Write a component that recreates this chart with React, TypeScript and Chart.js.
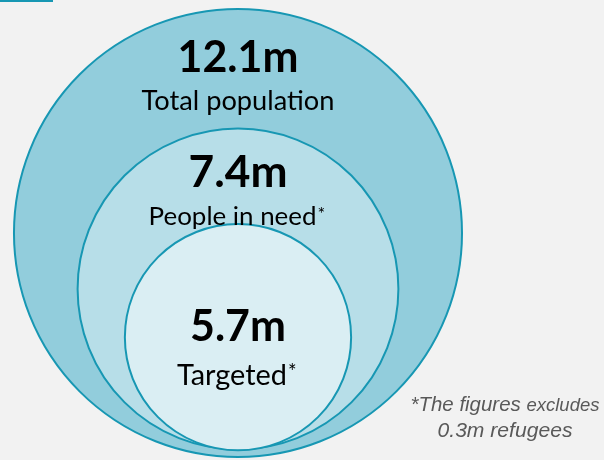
import React, { useEffect, useRef } from "react";
import { Chart, registerables } from "chart.js";

Chart.register(...registerables);

// ---- data ----
const categories = ["Total population", "People in need", "Targeted"];
const valueLabels = ["12.1m", "7.4m", "5.7m"];
const values = [12.1, 7.4, 5.7];
const hasAsterisk = [false, true, true];
// circle geometry in relative units (outer circle radius = 1)
const circleRadius = [1, 0.716, 0.505];
const circleCenterY = [0, -0.25, -0.465];
const footnoteLines = ["*The figures ", "excludes", "0.3m refugees"];

// ---- styles ----
const fills = ["#92cddc", "#b7dee8", "#daeef3"];
const border = "#1797b3";
const valueBaseY = [0.719, 0.205, -0.482];
const nameBaseY = [0.549, 0.036, -0.679];
const valueWidth = [121, 99, 96];
const nameWidth = [193, 168, 110];
const footX = 1.192;
const footBaseY = [-0.795, -0.911];
const footWidth = [116, 73, 135];

function fitSize(ctx: CanvasRenderingContext2D, text: string, weight: string, family: string, target: number) {
  ctx.font = `${weight} 100px ${family}`;
  const w = ctx.measureText(text).width;
  return (100 * target) / w;
}

const labelPlugin = {
  id: "labels",
  afterDatasetsDraw(chart: any) {
    const ctx: CanvasRenderingContext2D = chart.ctx;
    const xs = chart.scales.x;
    const ys = chart.scales.y;
    ctx.save();
    // top-left decoration line
    ctx.fillStyle = border;
    ctx.fillRect(0, 0, 53, 2);

    const fam = "Lato, 'Open Sans', sans-serif";
    const cx = xs.getPixelForValue(0);
    ctx.fillStyle = "#000";
    ctx.textBaseline = "alphabetic";
    for (let i = 0; i < categories.length; i++) {
      const vs = fitSize(ctx, valueLabels[i], "bold", fam, valueWidth[i]);
      ctx.font = `bold ${vs}px ${fam}`;
      ctx.textAlign = "center";
      ctx.fillText(valueLabels[i], cx, ys.getPixelForValue(valueBaseY[i]));
      const ns = fitSize(ctx, categories[i], "normal", fam, nameWidth[i]);
      ctx.font = `normal ${ns}px ${fam}`;
      const nw = ctx.measureText(categories[i]).width;
      const ast = hasAsterisk[i] ? ns * 0.42 : 0;
      const startX = cx - (nw + ast) / 2;
      const by = ys.getPixelForValue(nameBaseY[i]);
      ctx.textAlign = "left";
      ctx.fillText(categories[i], startX, by);
      if (hasAsterisk[i]) {
        ctx.font = `normal ${ns * 0.7}px ${fam}`;
        ctx.fillText("*", startX + nw + 1, by - ns * 0.2);
      }
    }

    // footnote
    const ff = "'Liberation Sans', Arial, sans-serif";
    ctx.fillStyle = "#595959";
    const fx = xs.getPixelForValue(footX);
    const s1 = fitSize(ctx, footnoteLines[0], "italic", ff, footWidth[0]);
    const s2 = fitSize(ctx, footnoteLines[1], "italic", ff, footWidth[1]);
    const s3 = fitSize(ctx, footnoteLines[2], "italic", ff, footWidth[2]);
    const sx = fx - (footWidth[0] + footWidth[1]) / 2;
    const fy1 = ys.getPixelForValue(footBaseY[0]);
    ctx.textAlign = "left";
    ctx.font = `italic ${s1}px ${ff}`;
    ctx.fillText(footnoteLines[0], sx, fy1);
    ctx.font = `italic ${s2}px ${ff}`;
    ctx.fillText(footnoteLines[1], sx + footWidth[0], fy1);
    ctx.font = `italic ${s3}px ${ff}`;
    ctx.textAlign = "center";
    ctx.fillText(footnoteLines[2], fx, ys.getPixelForValue(footBaseY[1]));
    ctx.restore();
  },
};

export default function App() {
  const ref = useRef<HTMLCanvasElement>(null);
  useEffect(() => {
    if (!ref.current) return;
    const pixelRadius = (c: any) => {
      const ys = c.chart.scales.y;
      const r = Math.abs(ys.getPixelForValue(0) - ys.getPixelForValue(circleRadius[c.dataIndex]));
      return isFinite(r) ? r : 0;
    };
    const chart = new Chart(ref.current, {
      type: "scatter",
      data: {
        datasets: [
          {
            label: "Population",
            data: values.map((v, i) => ({ x: 0, y: circleCenterY[i], v })) as any,
            pointBackgroundColor: fills,
            pointBorderColor: border,
            pointBorderWidth: 2,
            pointRadius: pixelRadius,
            pointHoverRadius: pixelRadius,
            showLine: false,
            clip: false,
          } as any,
        ],
      },
      options: {
        responsive: false,
        animation: false,
        events: [],
        devicePixelRatio: 1,
        layout: { padding: 0 },
        plugins: { legend: { display: false }, tooltip: { enabled: false } },
        scales: {
          x: { type: "linear", display: false, min: -1.0625, max: 1.634 },
          y: { type: "linear", display: false, min: -1.0134, max: 1.04 },
        },
      },
      plugins: [labelPlugin],
    });
    return () => chart.destroy();
  }, []);
  return (
    <div style={{ position: "absolute", left: 0, top: 0, width: 604, height: 460, background: "#f2f2f2" }}>
      <canvas ref={ref} width={604} height={460} style={{ display: "block" }} />
    </div>
  );
}
